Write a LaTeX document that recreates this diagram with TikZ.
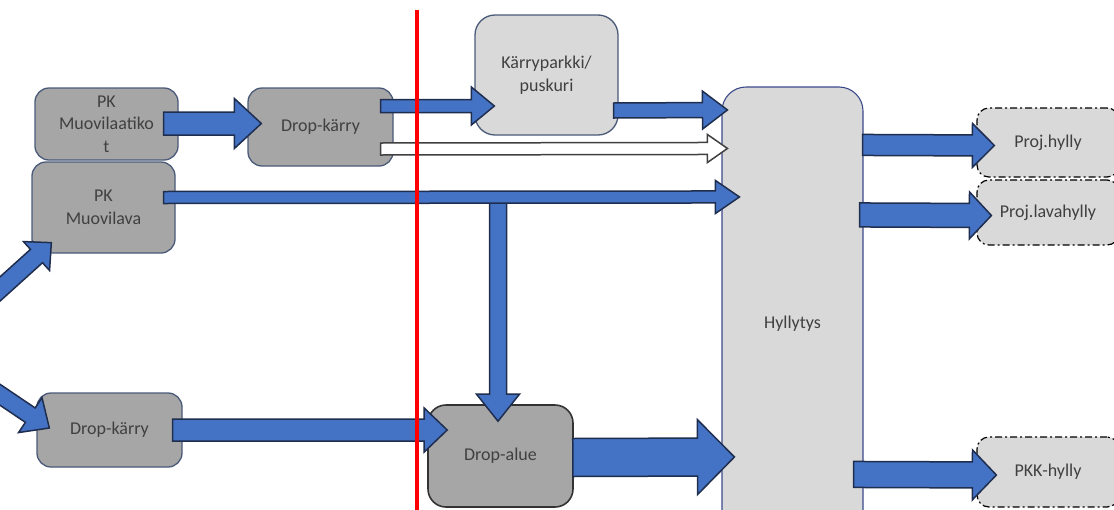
\documentclass[tikz,border=0pt]{standalone}
\usepackage{fontspec}
\setmainfont{Carlito}
\usetikzlibrary{calc}
\definecolor{boxdark}{HTML}{A6A6A6}
\definecolor{boxlight}{HTML}{D9D9D9}
\definecolor{slate}{HTML}{4A5A78}
\definecolor{arrowblue}{HTML}{4472C4}
\definecolor{arrowline}{HTML}{1F2E4E}
\definecolor{txt}{HTML}{404040}
\definecolor{hyborder}{HTML}{3A4A8A}
\tikzset{
  base/.style={rectangle, rounded corners=14pt, align=center, text=txt,
    font=\fontsize{18}{22.5}\selectfont, inner sep=2pt},
  darkbox/.style={base, fill=boxdark, draw=slate, line width=1.3pt},
  dropbox/.style={base, fill=boxdark, draw=black!80, line width=1.6pt, rounded corners=18pt},
  lightbox/.style={base, fill=boxlight, draw=slate, line width=1.3pt, rounded corners=20pt},
  hybox/.style={base, fill=boxlight, draw=hyborder, line width=1.1pt, rounded corners=24pt},
  storebox/.style={base, fill=boxlight, draw=black, line width=1.2pt,
    dash pattern=on 7pt off 3pt on 2pt off 3pt, rounded corners=12pt},
  barrow/.style={fill=arrowblue, draw=arrowline, line width=1.5pt, line join=miter},
  warrow/.style={fill=white, draw=black!75, line width=1.5pt, line join=miter},
  redline/.style={draw=red, line width=4.5pt}
}
% block arrow: [style]{start}{end}{half shaft}{half head}{head length}
\newcommand\blockarrow[6][barrow]{%
  \coordinate (ba-s) at #2;
  \coordinate (ba-e) at #3;
  \coordinate (ba-m) at ($(ba-e)!#6!(ba-s)$);
  \draw[#1] ($(ba-s)!#4!90:(ba-e)$) -- ($(ba-m)!#4!90:(ba-e)$)
    -- ($(ba-m)!#5!90:(ba-e)$) -- (ba-e) -- ($(ba-m)!#5!-90:(ba-e)$)
    -- ($(ba-m)!#4!-90:(ba-e)$) -- ($(ba-s)!#4!-90:(ba-e)$) -- cycle;
}
\begin{document}
\begin{tikzpicture}[x=1pt,y=-1pt]
\useasboundingbox (0,0) rectangle (1114,509);
\clip (0,0) rectangle (1114,509);

% nodes
\node[darkbox, minimum width=143pt, minimum height=72pt] (pkml) at (106.5,124) {PK\\Muovilaatiko\\t};
\node[darkbox, minimum width=143pt, minimum height=91pt] (pkmv) at (103.5,207.5) {PK\\Muovilava};
\node[darkbox, minimum width=145pt, minimum height=78pt] (dk1) at (320.5,127) {Drop-kärry};
\node[lightbox, minimum width=143pt, minimum height=120pt] (kp) at (546.5,75) {Kärryparkki/\\puskuri};
\node[hybox, minimum width=141pt, minimum height=473pt] (hy) at (792.5,323.5) {Hyllytys};
\node[storebox, minimum width=142pt, minimum height=69pt] (ph) at (1048,142.5) {Proj.hylly};
\node[storebox, minimum width=142pt, minimum height=65pt] (pl) at (1048,212.5) {Proj.lavahylly};
\node[storebox, minimum width=142pt, minimum height=70pt] (pkk) at (1048,472) {PKK-hylly};
\node[darkbox, minimum width=145pt, minimum height=74pt] (dk2) at (109.5,430) {Drop-kärry};
\node[dropbox, minimum width=145pt, minimum height=102pt] (da) at (500.5,456) {Drop-alue};

% free ends
\coordinate (in1) at (-10,298);
\coordinate (in2) at (-10,388);
\coordinate (split) at (498,199);

% arrows
\blockarrow{(in1)}{($(pkmv.south west)+(20,-11)$)}{9pt}{19.5pt}{20pt}
\blockarrow{(in2)}{($(dk2.west)+(13,-2)$)}{8.7pt}{21pt}{23pt}
\blockarrow{($(pkml.east)+(-15,-0.5)$)}{($(dk1.west)+(14,-3.5)$)}{11.5pt}{25pt}{27pt}
\blockarrow{($(dk1.east)+(-13,-21)$)}{($(kp.west)+(20,31)$)}{6.5pt}{19pt}{23pt}
\blockarrow{($(kp.east)+(-5,35.5)$)}{($(hy.north west)+(6,23.5)$)}{7.5pt}{19pt}{25pt}
\blockarrow[warrow]{($(dk1.east)+(-13,22)$)}{($(hy.north west)+(6,62)$)}{6pt}{14pt}{20pt}
\blockarrow{(split)}{($(da.north)+(-2.5,17)$)}{8.5pt}{21.5pt}{27pt}
\blockarrow{($(pkmv.east)+(-12,-10)$)}{($(hy.north west)+(18,110.5)$)}{6pt}{16.5pt}{24pt}
\blockarrow{($(hy.north east)+(-1,58.5)$)}{($(ph.west)+(18,3)$)}{10.5pt}{22pt}{22pt}
\blockarrow{($(hy.north east)+(-4,128.5)$)}{($(pl.west)+(15,3)$)}{12pt}{23.5pt}{22pt}
\blockarrow{($(hy.north east)+(-10,388)$)}{($(pkk.west)+(20,3)$)}{13pt}{25pt}{24pt}
\blockarrow{($(dk2.east)+(-10,0)$)}{($(da.west)+(20,-26)$)}{11pt}{22pt}{23pt}
\blockarrow{($(da.east)+(-1,1.5)$)}{($(hy.north west)+(13,370.5)$)}{19pt}{37.5pt}{37pt}

% red boundary line
\coordinate (redtop) at (417,10);
\coordinate (redbot) at (417,520);
\draw[redline] (redtop) -- (redbot);
\end{tikzpicture}
\end{document}
